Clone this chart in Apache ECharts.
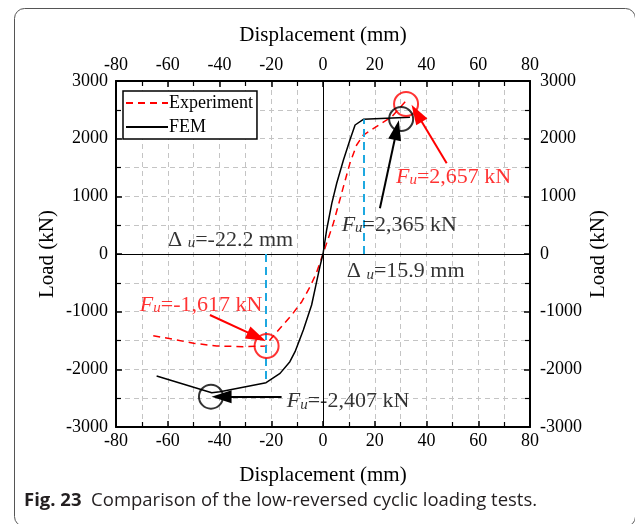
<!DOCTYPE html>
<html><head><meta charset="utf-8">
<script src="https://cdn.jsdelivr.net/npm/echarts@6/dist/echarts.min.js"></script>
<style>html,body{margin:0;padding:0;background:#fff}#c{width:635px;height:524px}</style>
</head><body><div id="c"></div>
<script>
// ---- data ----
const expX = [-65.6, -57.8, -50.0, -41.1, -30.8, -22.0, -20.5, -16.6, -12.1, -8.2, -5.0, -2.6, 0, 4.0, 7.9, 10.4, 13.0, 15.6, 26.6, 32.4];
const expY = [-1416, -1480, -1549, -1595, -1607, -1595, -1491, -1289, -1058, -827, -567, -335, 0, 532, 1168, 1572, 1890, 2063, 2381, 2670];
const femX = [-64.3, -43.0, -39.8, -22.0, -16.6, -12.8, -10.8, -7.6, -4.4, -2.6, -1.2, 0, 1.4, 3.4, 5.3, 7.9, 10.4, 12.4, 13.0, 15.6, 33.6];
const femY = [-2116, -2405, -2388, -2232, -2070, -1867, -1694, -1318, -884, -508, -220, 0, 416, 879, 1226, 1630, 1977, 2237, 2266, 2335, 2370];
// peak circles
const peakX = [32.1, 30.2, -21.8, -43.3];
const peakY = [2600, 2341, -1595, -2474];
const peakColor = ['#ff0000', '#000000', '#ff0000', '#000000'];
// ultimate displacement guide lines
const ductX = [15.9, -22.2];
const ductY = [2335, -2232];
// annotation arrows (tail -> tip)
const arrowFrom = [[47.8, 1573], [22.0, 792], [-43.7, -1058], [-16.0, -2474]];
const arrowTo = [[36.2, 2440], [28.5, 2150], [-25.6, -1434], [-39.2, -2474]];
const arrowColor = ['#ff0000', '#000000', '#ff0000', '#000000'];
// annotation texts
const noteX = [28.2, 7.2, -70.8, -14.0];
const noteY = [1335, 503, -884, -2561];
const noteVal = ['=2,657 kN', '=2,365 kN', '=-1,617 kN', '=-2,407 kN'];
const noteColor = ['#ff0000', '#000000', '#ff0000', '#000000'];
const deltaX = [-59.9, 9.2];
const deltaY = [243, -307];
const deltaVal = ['=-22.2 mm', '=15.9 mm'];
// axes
const xTicks = [-80, -60, -40, -20, 0, 20, 40, 60, 80];
const yTicks = [-3000, -2000, -1000, 0, 1000, 2000, 3000];

const SERIF = '"Liberation Serif", "Times New Roman", serif';
const zip = (a, b) => a.map((v, i) => [v, b[i]]);

function xAxisDef(pos) {
  return {
    type: 'value', position: pos, min: xTicks[0], max: xTicks[xTicks.length - 1], interval: 20,
    name: 'Displacement (mm)', nameLocation: 'middle', nameGap: pos === 'top' ? 35 : 38,
    nameTextStyle: { fontFamily: SERIF, fontSize: 21, color: '#000' },
    axisLine: { show: true, onZero: false, lineStyle: { color: '#000', width: 2 } },
    axisTick: { show: true, inside: true, length: 6, lineStyle: { color: '#000', width: 1.5 } },
    minorTick: { show: true, splitNumber: 2, length: 5, lineStyle: { color: '#000', width: 1.2 } },
    axisLabel: { fontFamily: SERIF, fontSize: 18, color: '#000', margin: pos === 'top' ? 7 : 5, formatter: v => String(v) },
    splitLine: { show: pos === 'bottom', lineStyle: { color: '#c4c4c4', type: [5, 4], width: 1 } },
    minorSplitLine: { show: pos === 'bottom', lineStyle: { color: '#c4c4c4', type: [5, 4], width: 1 } }
  };
}
function yAxisDef(pos) {
  return {
    type: 'value', position: pos, min: yTicks[0], max: yTicks[yTicks.length - 1], interval: 1000,
    name: 'Load (kN)', nameLocation: 'middle', nameRotate: 90, nameGap: pos === 'left' ? 58 : 58,
    nameMoveOverlap: false,
    nameTextStyle: { fontFamily: SERIF, fontSize: 21, color: '#000' },
    axisLine: { show: true, onZero: false, lineStyle: { color: '#000', width: 2 } },
    axisTick: { show: true, inside: true, length: 6, lineStyle: { color: '#000', width: 1.5 } },
    minorTick: { show: true, splitNumber: 2, length: 5, lineStyle: { color: '#000', width: 1.2 } },
    axisLabel: { fontFamily: SERIF, fontSize: 18, color: '#000', margin: pos === 'left' ? 8 : 10, formatter: v => String(v) },
    splitLine: { show: pos === 'left', lineStyle: { color: '#c4c4c4', type: [5, 4], width: 1 } },
    minorSplitLine: { show: pos === 'left', lineStyle: { color: '#c4c4c4', type: [5, 4], width: 1 } }
  };
}

const richBase = (color) => ({
  f: { fontFamily: SERIF, fontSize: 22, fontStyle: 'italic', color: color, lineHeight: 22, padding: [0, 0, 5, 0], verticalAlign: 'top' },
  s: { fontFamily: SERIF, fontSize: 15, fontStyle: 'italic', color: color, lineHeight: 15, verticalAlign: 'bottom' },
  t: { fontFamily: SERIF, fontSize: 22, color: color, lineHeight: 22, padding: [0, 0, 5, 0], verticalAlign: 'top' }
});

const series = [
  {
    name: 'Experiment', type: 'line', data: zip(expX, expY), symbol: 'none', smooth: false,
    lineStyle: { color: '#ff0000', width: 1.5, type: [7, 5] }, itemStyle: { color: '#ff0000' }, z: 3,
    markLine: {
      silent: true, symbol: 'none', animation: false,
      lineStyle: { color: '#000', width: 1, type: 'solid' }, label: { show: false },
      data: [{ xAxis: 0 }, { yAxis: 0 }]
    }
  },
  {
    name: 'FEM', type: 'line', data: zip(femX, femY), symbol: 'none',
    lineStyle: { color: '#000', width: 1.5, type: 'solid' }, itemStyle: { color: '#000' }, z: 3
  },
  {
    name: 'duct', type: 'line', symbol: 'none', data: [], z: 2,
    markLine: {
      silent: true, symbol: 'none', animation: false, label: { show: false },
      lineStyle: { color: '#1ea8e0', width: 2, type: [8, 5] },
      data: ductX.map((x, i) => [{ coord: [x, 0] }, { coord: [x, ductY[i]] }])
    }
  },
  {
    name: 'arrows', type: 'line', symbol: 'none', data: [], z: 4,
    markLine: {
      silent: true, animation: false, label: { show: false },
      symbol: ['none', 'triangle'], symbolSize: [13, 20],
      data: arrowFrom.map((p, i) => [
        { coord: p, lineStyle: { color: arrowColor[i], width: 2, type: 'solid' }, itemStyle: { color: arrowColor[i] } },
        { coord: arrowTo[i], itemStyle: { color: arrowColor[i] } }
      ])
    }
  },
  {
    name: 'peaks', type: 'scatter', symbol: 'circle', symbolSize: 24, z: 5,
    data: peakX.map((x, i) => ({ value: [x, peakY[i]], itemStyle: { color: 'rgba(0,0,0,0)', borderColor: peakColor[i], borderWidth: 2 } }))
  },
  {
    name: 'notes', type: 'scatter', symbolSize: 0, z: 6, silent: true,
    data: noteX.map((x, i) => ({
      value: [x, noteY[i]],
      label: {
        show: true, position: 'right', distance: 0,
        formatter: '{f|F}{s|u}{t|' + noteVal[i] + '}',
        rich: richBase(noteColor[i])
      }
    }))
  },
  {
    name: 'deltas', type: 'scatter', symbolSize: 0, z: 6, silent: true,
    data: deltaX.map((x, i) => ({
      value: [x, deltaY[i]],
      label: {
        show: true, position: 'right', distance: 0,
        formatter: '{t|\u0394 }{s|u}{t|' + deltaVal[i] + '}',
        rich: richBase('#000')
      }
    }))
  }
];

const chart = echarts.init(document.getElementById('c'), null, { renderer: 'canvas' });
chart.setOption({
  animation: false,
  backgroundColor: '#fff',
  grid: { left: 116, right: 105, top: 81, bottom: 97, containLabel: false },
  xAxis: [xAxisDef('bottom'), xAxisDef('top')],
  yAxis: [yAxisDef('left'), yAxisDef('right')],
  legend: {
    data: ['Experiment', 'FEM'], orient: 'vertical', left: 123, top: 91,
    itemWidth: 42, itemHeight: 14, itemGap: 6,
    padding: [3, 4, 3, 2],
    borderColor: '#000', borderWidth: 1.5, backgroundColor: '#fff',
    itemStyle: { opacity: 0 },
    textStyle: { fontFamily: SERIF, fontSize: 18, color: '#000', padding: [0, 0, 0, -4] },
    selectedMode: false
  },
  series: series,
  graphic: [
    {
      type: 'rect', left: 12, top: 6, silent: true,
      shape: { width: 621, height: 518, r: 10 },
      style: { fill: 'none', stroke: '#555', lineWidth: 1 }
    },
    {
      type: 'text', left: 24, top: 491,
      style: {
        text: '{b|Fig. 23}{r|  Comparison of the low-reversed cyclic loading tests.}',
        rich: {
          b: { fontFamily: '"Open Sans", "Noto Sans", sans-serif', fontWeight: 'bold', fontSize: 18.5, fill: '#231f20' },
          r: { fontFamily: '"Open Sans", "Noto Sans", sans-serif', fontSize: 18.5, fill: '#231f20' }
        }
      }
    }
  ]
});
</script>
</body></html>
